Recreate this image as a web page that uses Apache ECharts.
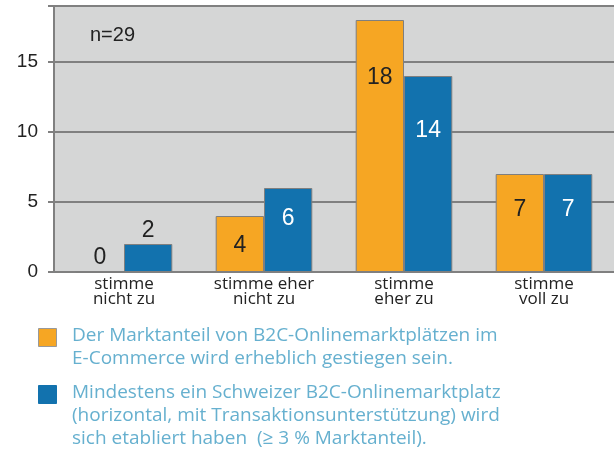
<!DOCTYPE html>
<html><head><meta charset="utf-8">
<script src="https://cdn.jsdelivr.net/npm/echarts@6/dist/echarts.min.js"></script>
<style>html,body{margin:0;padding:0;background:#fff}#c{width:614px;height:450px}</style>
</head><body><div id="c"></div>
<script>
const categories = ['stimme\nnicht zu', 'stimme eher\nnicht zu', 'stimme\neher zu', 'stimme\nvoll zu'];
const seriesNames = [
  'Der Marktanteil von B2C-Onlinemarktplätzen im\nE-Commerce wird erheblich gestiegen sein.',
  'Mindestens ein Schweizer B2C-Onlinemarktplatz\n(horizontal, mit Transaktionsunterstützung) wird\nsich etabliert haben  (≥ 3 % Marktanteil).'
];
const marktanteil = [0, 4, 18, 7];
const schweizer = [2, 6, 14, 7];
const yTicks = [0, 5, 10, 15];
const sampleNote = 'n=29';

// layout only: label distances from bar top (null = above bar)
const orangeLabelDist = [null, 18, 46, 24];
const blueLabelDist = [null, 19, 43, 24];

const ORANGE = '#f6a623', BLUE = '#1272ae';

function mkData(vals, dists, insideColor) {
  return vals.map((v, i) => {
    if (dists[i] === null) {
      return { value: v, label: { position: 'top', distance: 2, color: '#222' } };
    }
    return { value: v, label: { position: 'insideTop', distance: dists[i], color: insideColor } };
  });
}

const chart = echarts.init(document.getElementById('c'));
const legendGraphics = [];
const legendTops = [328, 385];
const legendColors = [ORANGE, BLUE];
seriesNames.forEach((n, i) => {
  legendGraphics.push({ type: 'rect', left: 38, top: legendTops[i], shape: { width: 18, height: 18 },
    style: { fill: legendColors[i], stroke: i === 0 ? '#999' : BLUE, lineWidth: 1 } });
  legendGraphics.push({ type: 'text', left: 72, top: legendTops[i] - 4,
    style: { text: n, fill: '#66b0cf', font: '19px "Open Sans"', lineHeight: 23 } });
});
legendGraphics.push({ type: 'text', left: 90, top: 25, style: { text: sampleNote, fill: '#222', font: '20px "Liberation Sans"' } });

chart.setOption({
  animation: false,
  grid: { left: 54, right: -4, top: 6, bottom: 178, backgroundColor: '#d5d6d6', show: true, borderWidth: 0 },
  xAxis: {
    type: 'category', data: categories,
    axisLine: { show: true, lineStyle: { color: '#808080', width: 2 } },
    axisTick: { show: false },
    axisLabel: { color: '#222', fontSize: 17, fontFamily: 'Open Sans', lineHeight: 15, margin: 5 }
  },
  yAxis: {
    type: 'value', min: 0, max: 19, interval: 5,
    axisLine: { show: true, lineStyle: { color: '#808080', width: 2 } },
    axisTick: { show: true, length: 6, lineStyle: { color: '#808080', width: 2 } },
    splitLine: { show: true, lineStyle: { color: '#808080', width: 2 } },
    axisLabel: { color: '#222', fontSize: 19, fontFamily: 'Liberation Sans', margin: 16,
      formatter: v => yTicks.includes(v) ? String(v) : '' }
  },
  series: [
    { name: 'a', type: 'bar', data: mkData(marktanteil, orangeLabelDist, '#222'), barGap: '0%', barCategoryGap: '31%',
      itemStyle: { color: ORANGE, borderColor: '#7f7f7f', borderWidth: 1 },
      label: { show: true, fontSize: 23, fontFamily: 'Liberation Sans' } },
    { name: 'b', type: 'bar', data: mkData(schweizer, blueLabelDist, '#fff'),
      itemStyle: { color: BLUE, borderColor: '#7f7f7f', borderWidth: 1 },
      label: { show: true, fontSize: 23, fontFamily: 'Liberation Sans' } }
  ],
  graphic: legendGraphics
});
</script></body></html>
